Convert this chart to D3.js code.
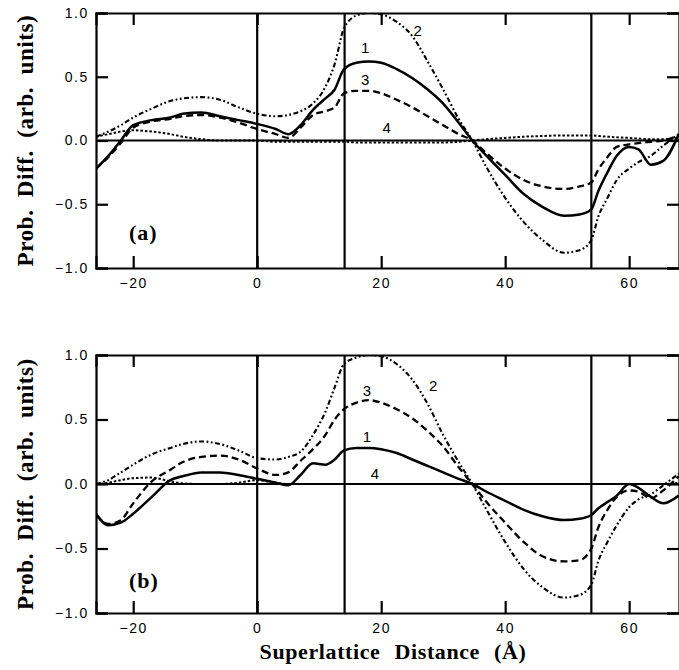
<!DOCTYPE html>
<html><head><meta charset="utf-8">
<script src="https://cdnjs.cloudflare.com/ajax/libs/d3/7.8.5/d3.min.js"></script>
<style>body{margin:0;background:#fff}svg{display:block}</style>
</head><body>
<svg id="chart" width="679" height="670"></svg>
<script>
// ---- data ----
const xGrid = [-26,-24,-22,-20,-17,-14,-12,-9,-6,-3,0,3,5,7,9,11,12.5,14,16,18,20,22.5,25,27.5,30,32.5,34.7,37,40,43,46,49.5,52,53.9,55,56.5,58,60,61.5,63.5,65.5,68];

const a1 = [-0.22,-0.12,0.0,0.12,0.16,0.18,0.21,0.22,0.19,0.16,0.13,0.09,0.05,0.12,0.24,0.33,0.40,0.56,0.61,0.62,0.61,0.56,0.49,0.40,0.29,0.14,0.0,-0.12,-0.27,-0.42,-0.52,-0.59,-0.58,-0.54,-0.40,-0.25,-0.12,-0.05,-0.07,-0.19,-0.16,0.05];
const a2 = [0.03,0.07,0.12,0.18,0.25,0.31,0.33,0.34,0.32,0.26,0.21,0.19,0.20,0.23,0.29,0.42,0.60,0.88,0.98,1.0,0.99,0.93,0.82,0.62,0.40,0.17,0.0,-0.21,-0.45,-0.64,-0.78,-0.88,-0.86,-0.78,-0.60,-0.45,-0.31,-0.22,-0.17,-0.12,-0.04,0.05];
const a3 = [-0.22,-0.13,-0.02,0.10,0.15,0.17,0.19,0.20,0.18,0.14,0.09,0.05,0.02,0.10,0.20,0.23,0.26,0.37,0.39,0.39,0.37,0.32,0.26,0.19,0.12,0.05,0.0,-0.10,-0.22,-0.31,-0.36,-0.38,-0.36,-0.33,-0.23,-0.13,-0.05,-0.03,-0.02,-0.01,0.0,0.04];
const a4 = [0.03,0.05,0.07,0.08,0.07,0.05,0.03,0.01,0.0,0.0,0.0,-0.01,-0.01,-0.01,-0.01,-0.01,-0.01,-0.01,-0.015,-0.015,-0.015,-0.015,-0.015,-0.015,-0.015,-0.01,0.0,0.01,0.02,0.03,0.035,0.04,0.04,0.04,0.035,0.03,0.025,0.02,0.015,0.01,0.01,0.02];

const b1 = [-0.23,-0.32,-0.30,-0.23,-0.10,0.03,0.06,0.09,0.09,0.07,0.04,0.01,-0.01,0.07,0.16,0.15,0.19,0.26,0.28,0.28,0.27,0.24,0.19,0.14,0.09,0.04,0.0,-0.06,-0.13,-0.20,-0.25,-0.28,-0.27,-0.24,-0.19,-0.14,-0.09,0.0,-0.03,-0.10,-0.15,-0.09];
const b2 = [0.0,0.03,0.09,0.15,0.23,0.28,0.31,0.33,0.31,0.26,0.20,0.19,0.21,0.25,0.38,0.56,0.75,0.93,0.98,1.0,0.99,0.93,0.81,0.62,0.38,0.17,0.0,-0.20,-0.45,-0.66,-0.80,-0.88,-0.86,-0.78,-0.60,-0.45,-0.32,-0.18,-0.12,-0.08,-0.01,0.08];
const b3 = [-0.24,-0.31,-0.28,-0.15,0.02,0.11,0.17,0.21,0.22,0.19,0.12,0.07,0.09,0.18,0.27,0.38,0.50,0.58,0.63,0.65,0.63,0.58,0.51,0.41,0.29,0.13,0.0,-0.14,-0.30,-0.45,-0.56,-0.60,-0.59,-0.50,-0.34,-0.20,-0.10,-0.05,-0.06,-0.11,-0.05,0.06];
const b4 = [0.0,0.01,0.03,0.045,0.05,0.02,0.005,0.0,0.0,0.01,0.03,0.01,0.0,0.0,0.0,0.0,0.0,0.0,0.0,0.0,0.0,0.0,0.0,0.0,0.0,0.0,0.0,0.0,0.0,0.0,0.0,0.0,0.0,0.0,0.0,0.0,0.0,0.0,0.0,0.0,0.0,0.01];

const interfaces = [0, 14.1, 53.9];
const xTicks = [-20, 0, 20, 40, 60];
const yTicks = [1.0, 0.5, 0.0, -0.5, -1.0];
const seriesNames = ["1", "2", "3", "4"];
const labelPosA = [[17.4,0.72],[25.9,0.85],[17.4,0.47],[20.9,0.09]];
const labelPosB = [[17.7,0.36],[28.4,0.75],[17.7,0.71],[19.0,0.07]];
const panelNames = ["(a)", "(b)"];
const yTitle = "Prob. Diff. (arb. units)";
const xTitle = "Superlattice Distance (Å)";

// ---- drawing ----
const svg = d3.select("#chart");
svg.append("rect").attr("width",679).attr("height",670).attr("fill","#fff");
const left = 96, right = 680;
const x = d3.scaleLinear().domain([-26, 68.2]).range([left, right]);
const styles = [
  {w:2.5, dash:null},
  {w:2.1, dash:"5,2.5,1.8,2.5,1.8,2.5"},
  {w:2.3, dash:"7,4"},
  {w:2.0, dash:"2.5,2"}
];
const panels = [
  {top:13, bottom:268, data:[a1,a2,a3,a4], labels:labelPosA, name:panelNames[0], nameY:240},
  {top:355, bottom:613, data:[b1,b2,b3,b4], labels:labelPosB, name:panelNames[1], nameY:588}
];
const sans = "'Liberation Sans', Arial, Helvetica, sans-serif";
const serif = "'Liberation Serif', 'Times New Roman', serif";

panels.forEach((p, pi) => {
  const y = d3.scaleLinear().domain([-1, 1]).range([p.bottom, p.top]);
  const g = svg.append("g");
  const clipId = "clip" + pi;
  svg.append("clipPath").attr("id", clipId).append("rect")
    .attr("x", left).attr("y", p.top).attr("width", right-left).attr("height", p.bottom-p.top);

  // axes with inward ticks
  const axB = d3.axisBottom(x).tickValues(xTicks).tickSize(-12).tickFormat(d3.format("d"));
  const axT = d3.axisTop(x).tickValues(xTicks).tickSize(-12).tickFormat("");
  const axL = d3.axisLeft(y).tickValues(yTicks).tickSize(-12).tickFormat(d3.format(".1f"));
  const axR = d3.axisRight(y).tickValues(yTicks).tickSize(-12).tickFormat("");
  const gb = g.append("g").attr("transform",`translate(0,${p.bottom})`).call(axB);
  const gt = g.append("g").attr("transform",`translate(0,${p.top})`).call(axT);
  const gl = g.append("g").attr("transform",`translate(${left},0)`).call(axL);
  const gr = g.append("g").attr("transform",`translate(${right-1},0)`).call(axR);
  [gb,gt,gl,gr].forEach(a => {
    a.select(".domain").attr("stroke","#000").attr("stroke-width",2.2);
    a.selectAll(".tick line").attr("stroke","#000").attr("stroke-width",2.2);
    a.selectAll(".tick text").attr("fill","#000").attr("font-family",sans)
      .attr("font-size",14).attr("letter-spacing","1.6px");
  });
  gb.selectAll(".tick text").attr("dy","0.71em").attr("y",10);
  gl.selectAll(".tick text").attr("x",-7);

  // zero line and interface lines
  g.append("line").attr("x1",left).attr("x2",right).attr("y1",y(0)).attr("y2",y(0))
    .attr("stroke","#000").attr("stroke-width",2.2);
  g.selectAll(".iface").data(interfaces).join("line")
    .attr("x1",d=>x(d)).attr("x2",d=>x(d)).attr("y1",p.top).attr("y2",p.bottom)
    .attr("stroke","#000").attr("stroke-width",2.2);

  // curves
  const line = d3.line().x((d,i)=>x(xGrid[i])).y(d=>y(d)).curve(d3.curveMonotoneX);
  const cg = g.append("g").attr("clip-path",`url(#${clipId})`);
  p.data.forEach((vals, si) => {
    cg.append("path").datum(vals).attr("d", line)
      .attr("fill","none").attr("stroke","#000")
      .attr("stroke-width", styles[si].w)
      .attr("stroke-dasharray", styles[si].dash)
      .attr("stroke-linejoin","round");
  });

  // curve labels
  p.labels.forEach((pos, si) => {
    g.append("text").attr("x", x(pos[0])).attr("y", y(pos[1]))
      .attr("text-anchor","middle").attr("dominant-baseline","middle")
      .attr("font-family",sans).attr("font-size",15).attr("fill","#000")
      .text(seriesNames[si]);
  });

  // panel name
  g.append("text").attr("x",129).attr("y",p.nameY)
    .attr("font-family",serif).attr("font-weight","bold").attr("font-size",22)
    .attr("letter-spacing","1px").text(p.name);

  // y title
  g.append("text").attr("transform",`translate(33,${(p.top+p.bottom)/2}) rotate(-90)`)
    .attr("text-anchor","middle").attr("font-family",serif).attr("font-weight","bold")
    .attr("font-size",23).attr("word-spacing","6px").attr("letter-spacing","0.6px").text(yTitle);
});

svg.append("text").attr("x",393).attr("y",659).attr("text-anchor","middle")
  .attr("font-family",serif).attr("font-weight","bold").attr("font-size",22)
  .attr("word-spacing","8px").attr("letter-spacing","0.6px").text(xTitle);
</script>
</body></html>
